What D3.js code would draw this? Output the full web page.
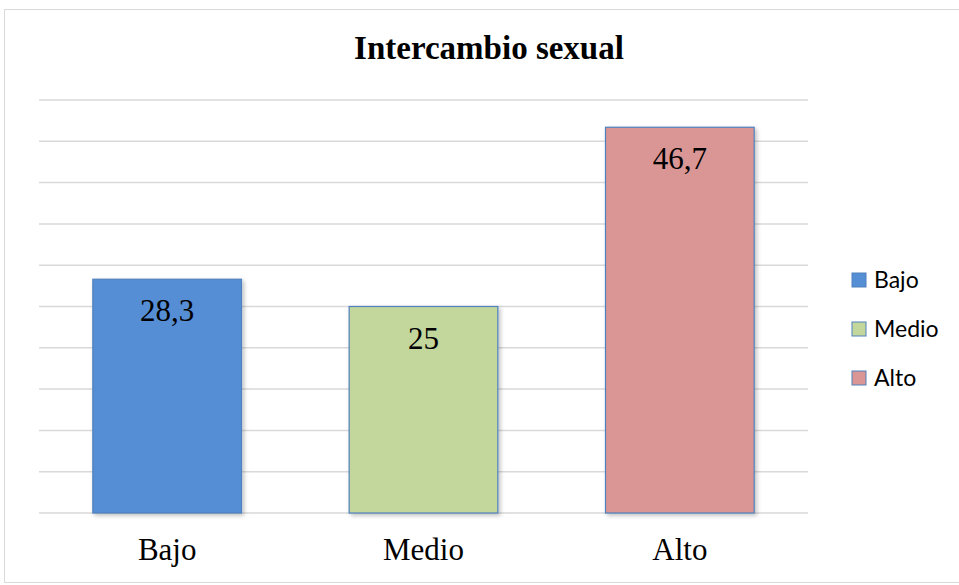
<!DOCTYPE html>
<html>
<head>
<meta charset="utf-8">
<script src="https://cdn.jsdelivr.net/npm/d3@7/dist/d3.min.js"></script>
<style>
  html, body { margin: 0; padding: 0; background: #fff; }
  svg { display: block; }
</style>
</head>
<body>
<svg id="chart" width="959" height="585"></svg>
<script>
// Nivel de intercambio sexual (%)
const categories = ["Bajo", "Medio", "Alto"];
const values = [28.3, 25, 46.7];
const valueLabels = ["28,3", "25", "46,7"];
const colors = ["#558ED5", "#C3D69B", "#D99694"];
const yTicks = [0, 5, 10, 15, 20, 25, 30, 35, 40, 45, 50];

const svg = d3.select("#chart");
const W = 959, H = 585;
const plot = { left: 39, right: 808, top: 100, bottom: 513 };
const serif = "'Liberation Serif', 'Times New Roman', serif";

// Chart frame
svg.append("rect")
  .attr("x", 4.5).attr("y", 9.5)
  .attr("width", W - 4).attr("height", 573)
  .attr("fill", "#fff").attr("stroke", "#d9d9d9").attr("stroke-width", 1);

const defs = svg.append("defs");
const shadow = defs.append("filter").attr("id", "barShadow")
  .attr("x", "-10%").attr("y", "-10%").attr("width", "130%").attr("height", "130%");
shadow.append("feDropShadow")
  .attr("dx", 2).attr("dy", 2).attr("stdDeviation", 2)
  .attr("flood-color", "#000").attr("flood-opacity", 0.25);

const x = d3.scaleBand().domain(categories)
  .range([plot.left, plot.right]).paddingInner(0.42).paddingOuter(0.21);
const y = d3.scaleLinear().domain([0, 50]).range([plot.bottom, plot.top]);

// Horizontal gridlines
svg.append("g").selectAll("line").data(yTicks).join("line")
  .attr("x1", plot.left).attr("x2", plot.right)
  .attr("y1", d => y(d)).attr("y2", d => y(d))
  .attr("stroke", "#d9d9d9").attr("stroke-width", 1.5);

// Bars
svg.append("g").selectAll("rect").data(values).join("rect")
  .attr("x", (d, i) => x(categories[i]))
  .attr("y", d => y(d))
  .attr("width", x.bandwidth())
  .attr("height", d => y(0) - y(d))
  .attr("fill", (d, i) => colors[i])
  .attr("stroke", "#4F81BD").attr("stroke-width", 1.2)
  .attr("filter", "url(#barShadow)");

// Value labels inside bars
svg.append("g").selectAll("text").data(values).join("text")
  .attr("x", (d, i) => x(categories[i]) + x.bandwidth() / 2)
  .attr("y", d => y(d) + 42)
  .attr("text-anchor", "middle")
  .attr("font-family", serif)
  .attr("font-size", 31).attr("fill", "#000")
  .text((d, i) => valueLabels[i]);

// Category axis
const xAxis = svg.append("g")
  .attr("transform", `translate(0,${plot.bottom})`)
  .call(d3.axisBottom(x).tickSize(0).tickPadding(0));
xAxis.select(".domain").remove();
xAxis.selectAll("text")
  .attr("y", 47)
  .attr("dy", 0)
  .attr("font-family", serif)
  .attr("font-size", 31).attr("fill", "#000");

// Title
svg.append("text")
  .attr("x", 489).attr("y", 59)
  .attr("text-anchor", "middle")
  .attr("font-family", serif)
  .attr("font-weight", "bold").attr("font-size", 33).attr("fill", "#000")
  .text("Intercambio sexual");

// Legend
const legend = svg.append("g").selectAll("g").data(categories).join("g")
  .attr("transform", (d, i) => `translate(852,${273 + i * 49})`);
legend.append("rect")
  .attr("width", 14).attr("height", 14)
  .attr("fill", (d, i) => colors[i])
  .attr("stroke", "#4F81BD").attr("stroke-width", 1);
legend.append("text")
  .attr("x", 22).attr("y", 15)
  .attr("font-family", "Lato, 'Open Sans', sans-serif")
  .attr("font-size", 23).attr("fill", "#000")
  .text(d => d);
</script>
</body>
</html>
